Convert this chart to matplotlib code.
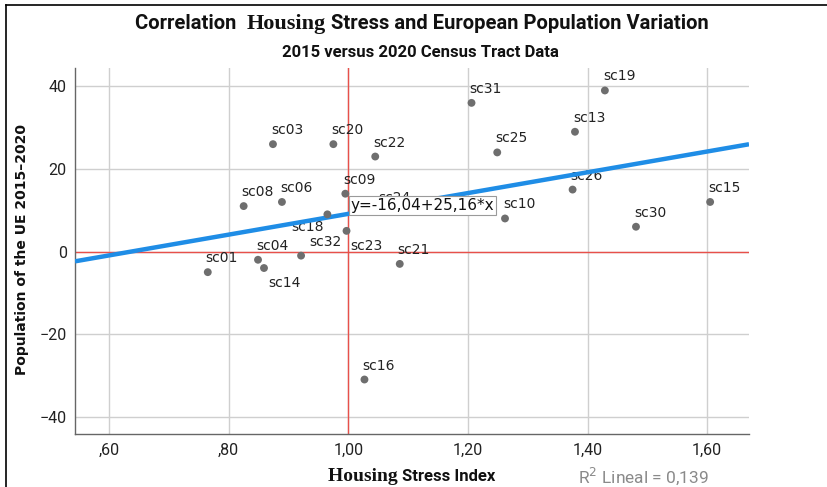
import matplotlib
matplotlib.use("Agg")
import matplotlib.pyplot as plt
from matplotlib.offsetbox import TextArea, HPacker, AnchoredOffsetbox

# data
labels = ["sc01", "sc04", "sc14", "sc32", "sc08", "sc06", "sc03", "sc20", "sc22",
          "sc09", "sc18", "sc23", "sc24", "sc21", "sc16", "sc31", "sc19", "sc13",
          "sc25", "sc26", "sc10", "sc30", "sc15"]
stress = [0.765, 0.849, 0.859, 0.921, 0.825, 0.889, 0.874, 0.975, 1.045,
          0.995, 0.965, 0.997, 1.034, 1.086, 1.027, 1.206, 1.429, 1.379,
          1.249, 1.375, 1.262, 1.481, 1.605]
popvar = [-5, -2, -4, -1, 11, 12, 26, 26, 23,
          14, 9, 5, 10, -3, -31, 36, 39, 29,
          24, 15, 8, 6, 12]
intercept, slope = -16.04, 25.16
r2 = 0.139
xticks = [0.6, 0.8, 1.0, 1.2, 1.4, 1.6]
xticklabels = [",60", ",80", "1,00", "1,20", "1,40", "1,60"]
yticks = [-40, -20, 0, 20, 40]

# label offsets in pixels (dx, dy, ha, va)
default_off = (-2, 7, "left", "bottom")
offsets = {
    "sc18": (-4, -6, "right", "top"),
    "sc32": (8, 7, "left", "bottom"),
    "sc23": (4, -8, "left", "top"),
    "sc14": (4, -8, "left", "top"),
    "sc24": (10, 5, "left", "bottom"),
}

sans = "DejaVu Sans"
narrow = ["Liberation Sans Narrow", "Roboto", "DejaVu Sans"]
serif = "Liberation Serif"

fig = plt.figure(figsize=(8.27, 4.87), dpi=100)
ax = fig.add_axes([0.0907, 0.1088, 0.815, 0.7512])

ax.set_xlim(0.543, 1.670)
ax.set_ylim(-44.2, 44.4)

ax.grid(True, color="#cfcfcf", linewidth=1.0, zorder=0)
ax.set_axisbelow(True)
ax.axvline(1.0, color="#e8504a", linewidth=1.0, zorder=1)
ax.axhline(0, color="#e8504a", linewidth=1.0, zorder=1)

xs = [ax.get_xlim()[0], ax.get_xlim()[1]]
ax.plot(xs, [intercept + slope * v for v in xs], color="#1f8de6",
        linewidth=3.2, solid_capstyle="butt", zorder=3)

ax.scatter(stress, popvar, s=32, color="#6e6e6e", edgecolors="none", zorder=4)
for lab, xv, yv in zip(labels, stress, popvar):
    dx, dy, ha, va = offsets.get(lab, default_off)
    ax.annotate(lab, (xv, yv), xytext=(dx, dy), textcoords="offset pixels",
                ha=ha, va=va, fontsize=10, family=sans, color="#222222", zorder=2)

ax.text(1.004, 11.2, "y=-16,04+25,16*x", fontsize=11, family=sans, color="#111111",
        va="center", ha="left", zorder=6,
        bbox=dict(boxstyle="square,pad=0.12", facecolor="white", edgecolor="#9a9a9a", linewidth=0.8))

ax.set_xticks(xticks)
ax.set_xticklabels(xticklabels)
ax.set_yticks(yticks)
ax.tick_params(length=0, pad=6, labelsize=11.5, colors="#222222")
for t in ax.get_xticklabels() + ax.get_yticklabels():
    t.set_family(narrow)

for s in ["top", "right"]:
    ax.spines[s].set_visible(False)
for s in ["left", "bottom"]:
    ax.spines[s].set_color("#666666")
    ax.spines[s].set_linewidth(1.0)


def mixed(parts, loc_xy):
    boxes = [TextArea(t, textprops=p) for t, p in parts]
    pack = HPacker(children=boxes, align="baseline", pad=0, sep=0)
    ab = AnchoredOffsetbox(loc="center", child=pack, frameon=False, pad=0, borderpad=0,
                           bbox_to_anchor=loc_xy, bbox_transform=fig.transFigure)
    fig.add_artist(ab)


tsans = dict(family=narrow, fontweight="bold", fontsize=14.5, color="#111111")
tserif = dict(family=serif, fontweight="bold", fontsize=16, color="#111111")
mixed([("Correlation  ", tsans), ("Housing", tserif),
       (" Stress and European Population Variation", tsans)], (0.51, 0.951))
fig.text(0.508, 0.893, "2015 versus 2020 Census Tract Data", ha="center", va="center",
         family=narrow, fontweight="bold", fontsize=12, color="#111111")

xsans = dict(family=narrow, fontweight="bold", fontsize=12, color="#111111")
xserif = dict(family=serif, fontweight="bold", fontsize=14, color="#111111")
mixed([("Housing ", xserif), ("Stress Index", xsans)], (0.498, 0.022))

fig.text(0.699, 0.022, "R$^2$ Lineal = 0,139", ha="left", va="center",
         family=narrow, fontsize=12.5, color="#8a8a8a")

fig.text(0.027, 0.487, "Population of the UE 2015\u20132020", rotation=90,
         ha="center", va="center", family=sans, fontweight="bold", fontsize=10,
         color="#111111")

# outer frame (left and top edges visible in the reference)
fig.add_artist(plt.Line2D([0.007, 0.007], [0.0, 0.99], transform=fig.transFigure,
                          color="black", linewidth=1.2))
fig.add_artist(plt.Line2D([0.007, 1.0], [0.99, 0.99], transform=fig.transFigure,
                          color="black", linewidth=1.2))

fig.savefig("out.png", dpi=100)
